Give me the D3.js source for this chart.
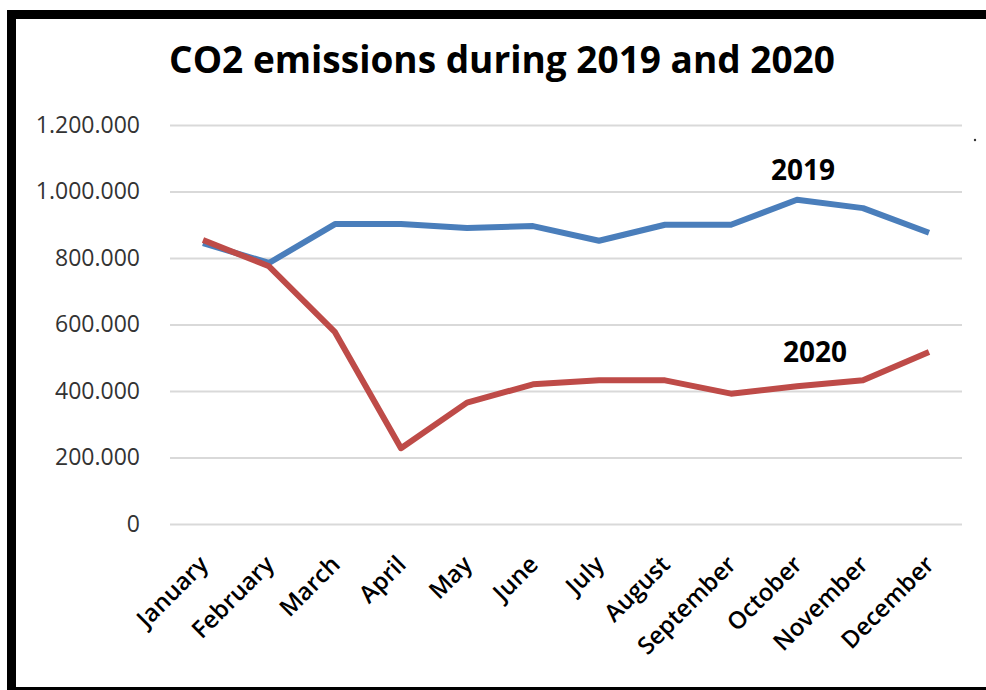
<!DOCTYPE html>
<html>
<head>
<meta charset="utf-8">
<script src="https://cdn.jsdelivr.net/npm/d3@7"></script>
<style>
  html, body { margin: 0; background: #fff; overflow: hidden; }
  svg { display: block; }
</style>
</head>
<body>
<div id="chart"></div>
<script>
const months = ['January', 'February', 'March', 'April', 'May', 'June', 'July',
  'August', 'September', 'October', 'November', 'December']
const values2019 = [845000, 785000, 902000, 902000, 890000, 896000, 852000, 900000, 900000, 975000, 950000, 876000]
const values2020 = [854000, 775000, 577000, 228000, 365000, 420000, 432000, 432000, 392000, 414000, 432000, 517000]
const yTicks = [0, 200000, 400000, 600000, 800000, 1000000, 1200000]

const width = 986
const height = 690
const margin = { top: 125, left: 170, right: 24, bottom: 166 }

const svg = d3
  .select('#chart')
  .append('svg')
  .attr('width', width)
  .attr('height', height)

// frame round the picture (no right edge in the original)
svg.append('path')
  .attr('d', 'M11.5,690 V14.5 H986')
  .attr('fill', 'none')
  .attr('stroke', '#000')
  .attr('stroke-width', 9)
svg.append('line')
  .attr('x1', 7).attr('x2', 986)
  .attr('y1', 688.5).attr('y2', 688.5)
  .attr('stroke', '#000')
  .attr('stroke-width', 3)

svg.append('text')
  .text('CO2 emissions during 2019 and 2020')
  .attr('x', 502)
  .attr('y', 73)
  .attr('text-anchor', 'middle')
  .attr('font-family', 'Open Sans, sans-serif')
  .attr('font-weight', 'bold')
  .attr('font-size', 37)
  .attr('fill', '#000')

const x = d3.scalePoint()
  .domain(months)
  .range([margin.left, width - margin.right])
  .padding(0.5)

const y = d3.scaleLinear()
  .domain([0, 1200000])
  .range([height - margin.bottom, margin.top])

const fmt = d => d === 0 ? '0' : d3.format(',')(d).replace(/,/g, '.')

// gridlines + y labels
const yAxis = svg.append('g')
  .attr('transform', `translate(${margin.left},0)`)
  .call(d3.axisLeft(y).tickValues(yTicks).tickSize(-(width - margin.left - margin.right)).tickPadding(30).tickFormat(fmt))
yAxis.select('.domain').remove()
yAxis.selectAll('.tick line').attr('stroke', '#d9d9d9').attr('stroke-width', 2)
yAxis.selectAll('.tick text')
  .attr('font-family', 'Open Sans, sans-serif')
  .attr('font-size', 23)
  .attr('fill', '#333')

// x labels
const xAxis = svg.append('g')
  .attr('transform', `translate(0,${height - margin.bottom})`)
  .call(d3.axisBottom(x).tickSize(0).tickPadding(0))
xAxis.select('.domain').remove()
xAxis.selectAll('.tick text')
  .attr('font-family', 'Open Sans, sans-serif')
  .attr('font-size', 24)
  .attr('font-weight', 600)
  .attr('fill', '#000')
  .attr('text-anchor', 'end')
  .attr('dy', 0)
  .attr('transform', 'translate(6,42) rotate(-45)')

const line = d3.line()
  .x((d, i) => x(months[i]))
  .y(d => y(d))

svg.append('path')
  .datum(values2019)
  .attr('d', line)
  .attr('fill', 'none')
  .attr('stroke', '#4a7ebb')
  .attr('stroke-width', 6)
  .attr('stroke-linejoin', 'round')

svg.append('path')
  .datum(values2020)
  .attr('d', line)
  .attr('fill', 'none')
  .attr('stroke', '#be4b48')
  .attr('stroke-width', 6)
  .attr('stroke-linejoin', 'round')

// series labels
svg.append('text')
  .text('2019')
  .attr('x', x('October') + 6)
  .attr('y', y(1035000))
  .attr('text-anchor', 'middle')
  .attr('font-family', 'Open Sans, sans-serif')
  .attr('font-weight', 'bold')
  .attr('font-size', 28)

svg.append('text')
  .text('2020')
  .attr('x', x('October') + 18)
  .attr('y', y(487000))
  .attr('text-anchor', 'middle')
  .attr('font-family', 'Open Sans, sans-serif')
  .attr('font-weight', 'bold')
  .attr('font-size', 28)

svg.append('circle')
  .attr('cx', 975)
  .attr('cy', 140)
  .attr('r', 1.2)
  .attr('fill', '#333')
</script>
</body>
</html>
